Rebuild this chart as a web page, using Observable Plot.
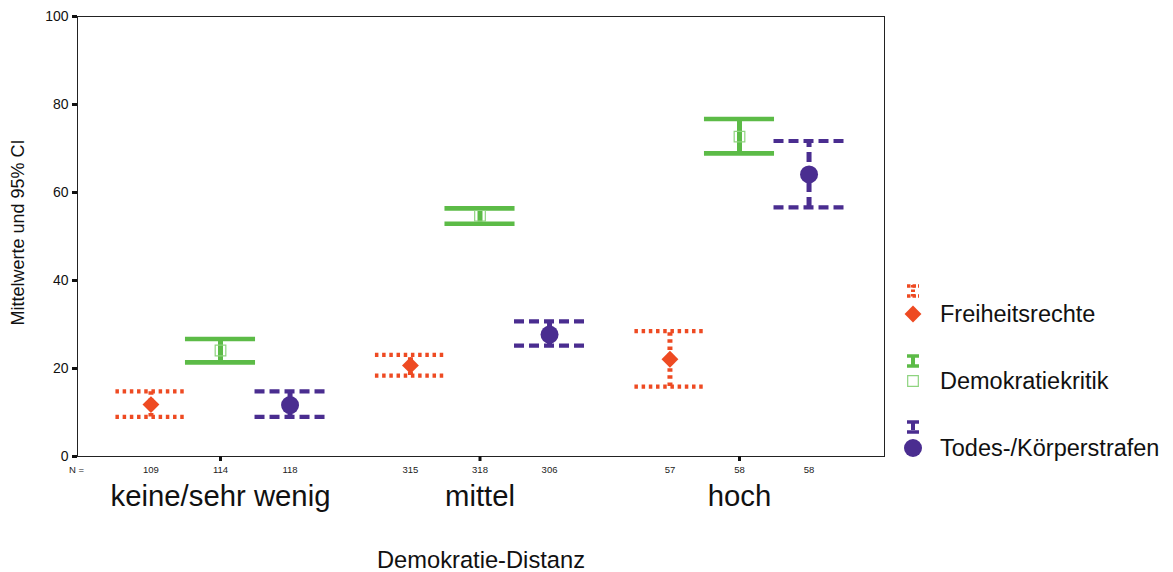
<!DOCTYPE html>
<html><head><meta charset="utf-8">
<script src="https://cdn.jsdelivr.net/npm/d3@7"></script>
<script src="https://cdn.jsdelivr.net/npm/@observablehq/plot@0.6"></script>
<style>
body{margin:0;background:#fff;font-family:"Liberation Sans",Arial,sans-serif;}
#wrap{position:relative;width:1173px;height:572px;}
#legend{position:absolute;left:895px;top:270px;}
</style></head><body><div id="wrap"></div>
<script>
// ---- data ----
const categories = ["keine/sehr wenig", "mittel", "hoch"];
const seriesNames = ["Freiheitsrechte", "Demokratiekritik", "Todes-/Körperstrafen"];
const freiMean = [11.8, 20.7, 22.1];
const freiLow = [9.0, 18.4, 15.9];
const freiHigh = [14.8, 23.1, 28.5];
const demoMean = [24.1, 54.7, 72.7];
const demoLow = [21.4, 52.9, 68.9];
const demoHigh = [26.7, 56.4, 76.7];
const todesMean = [11.7, 27.7, 64.1];
const todesLow = [9.0, 25.2, 56.6];
const todesHigh = [14.8, 30.7, 71.7];
const nFrei = [109, 315, 57];
const nDemo = [114, 318, 58];
const nTodes = [118, 306, 58];
const yTicks = [0, 20, 40, 60, 80, 100];
const xLabel = "Demokratie-Distanz";
const yLabel = "Mittelwerte und 95% CI";
const nPrefix = "N =";

// ---- styles ----
const styles = [
  {color: "#EE4A22", dash: "3.5,3.7", symbol: "diamond2", r: 7.6, fill: "#EE4A22", mstroke: "none", sw: 4.2, iconDash: "2.5,2", iconCapDash: "3.5,2"},
  {color: "#5CBB47", dash: null, symbol: "square", r: 6, fill: "none", mstroke: "#8ed47f", sw: 4.6, iconDash: null, iconCapDash: null},
  {color: "#4A2D90", dash: "10,5", symbol: "circle", r: 9, fill: "#4A2D90", mstroke: "none", sw: 4.2, iconDash: "9,1.5", iconCapDash: null}
];
const offsets = [-0.268, 0, 0.268];
const capHalf = 0.135;

const seriesData = [
  [freiMean, freiLow, freiHigh, nFrei],
  [demoMean, demoLow, demoHigh, nDemo],
  [todesMean, todesLow, todesHigh, nTodes]
];
const rows = [];
seriesData.forEach(([m, lo, hi, n], s) => {
  categories.forEach((c, g) => {
    rows.push({s, g, cat: c, x: g + 1 + offsets[s], mean: m[g], low: lo[g], high: hi[g], n: n[g]});
  });
});
const groupCenters = categories.map((c, g) => g + 1);

const marks = [Plot.frame({stroke: "#222", strokeWidth: 1})];
styles.forEach((st, s) => {
  const d = rows.filter(r => r.s === s);
  const common = {stroke: st.color, strokeWidth: st.sw, strokeDasharray: st.dash};
  marks.push(Plot.ruleX(d, {x: "x", y1: "low", y2: "high", ...common, strokeWidth: 5}));
  marks.push(Plot.ruleY(d, {y: "high", x1: r => r.x - capHalf, x2: r => r.x + capHalf, ...common}));
  marks.push(Plot.ruleY(d, {y: "low", x1: r => r.x - capHalf, x2: r => r.x + capHalf, ...common}));
});
styles.forEach((st, s) => {
  const d = rows.filter(r => r.s === s);
  marks.push(Plot.dot(d, {x: "x", y: "mean", symbol: () => st.symbol, r: st.r, fill: st.fill, stroke: st.mstroke, strokeWidth: 1.2}));
});
marks.push(
  Plot.axisY({ticks: yTicks, tickSize: 5, strokeWidth: 3, fontSize: 14, tickPadding: 4, label: null, stroke: "#111", color: "#111"}),
  Plot.axisX({ticks: groupCenters, tickSize: 5, strokeWidth: 3, tickFormat: () => "", label: null, stroke: "#111"}),
  Plot.text(rows, {x: "x", text: "n", frameAnchor: "bottom", dy: 16, fontSize: 9.5, fill: "#222"}),
  Plot.text([nPrefix], {frameAnchor: "bottom-left", textAnchor: "middle", dy: 16, dx: -1, fontSize: 9.5, fill: "#222"}),
  Plot.text(categories, {x: (c, i) => groupCenters[i], text: d => d, frameAnchor: "bottom", dy: 49, fontSize: 29.3, fill: "#111"}),
  Plot.text([xLabel], {frameAnchor: "bottom", dy: 111, fontSize: 23.7, fill: "#111"}),
  Plot.text([yLabel], {frameAnchor: "left", textAnchor: "middle", dx: -59, dy: -4, rotate: -90, fontSize: 18, fill: "#111"})
);

const chart = Plot.plot({
  width: 1173, height: 572,
  marginLeft: 77, marginRight: 289, marginTop: 16, marginBottom: 116,
  style: {fontFamily: "'Liberation Sans', Arial, sans-serif", background: "#fff"},
  x: {type: "linear", domain: [0.4489, 3.5588]},
  y: {domain: [0, 100]},
  marks
});
const wrap = document.getElementById("wrap");
wrap.appendChild(chart);

// ---- legend ----
const lg = d3.select(wrap).append("svg").attr("id", "legend").attr("width", 278).attr("height", 200)
  .style("font-family", "'Liberation Sans', Arial, sans-serif");
const rowsY = [[21, 44], [91, 111], [157, 178]];
styles.forEach((st, s) => {
  const [iy, sy] = rowsY[s];
  const g = lg.append("g");
  const cx = 18;
  g.append("line").attr("x1", cx).attr("x2", cx).attr("y1", iy - 6).attr("y2", iy + 6)
    .attr("stroke", st.color).attr("stroke-width", 4).attr("stroke-dasharray", st.iconDash);
  [iy - 5, iy + 5].forEach(yy => g.append("line").attr("x1", cx - 6).attr("x2", cx + 6).attr("y1", yy).attr("y2", yy)
    .attr("stroke", st.color).attr("stroke-width", 3.5).attr("stroke-dasharray", st.iconCapDash));
  const sym = {diamond2: d3.symbolDiamond2, square: d3.symbolSquare, circle: d3.symbolCircle}[st.symbol];
  g.append("path").attr("d", d3.symbol(sym, st.r * st.r * Math.PI)()).attr("transform", `translate(${cx},${sy})`)
    .attr("fill", st.fill).attr("stroke", st.mstroke).attr("stroke-width", 1.2);
  g.append("text").attr("x", 45).attr("y", sy).attr("dy", "0.35em").attr("font-size", 23.5).attr("fill", "#111")
    .text(seriesNames[s]);
});
</script></body></html>
